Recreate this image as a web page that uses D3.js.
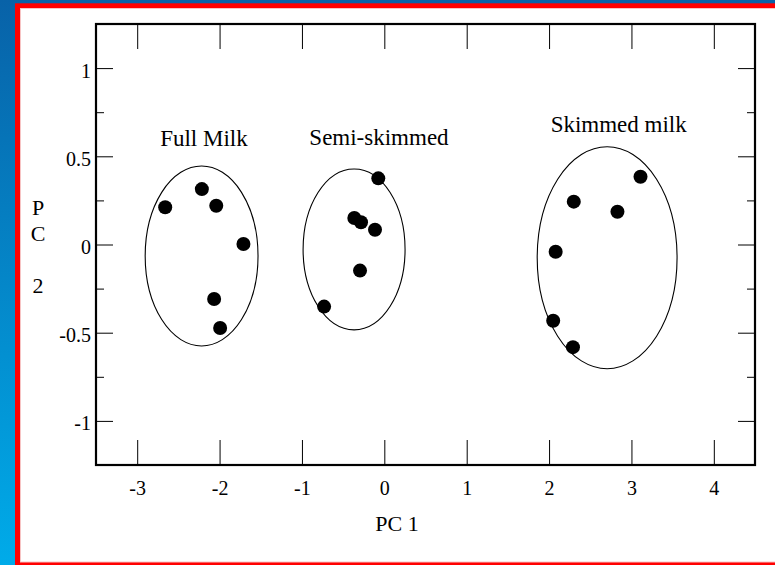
<!DOCTYPE html>
<html>
<head>
<meta charset="utf-8">
<script src="https://cdn.jsdelivr.net/npm/d3@7"></script>
<style>
  html, body { margin: 0; padding: 0; background: #fff; }
  svg { display: block; }
  text { font-family: "Liberation Serif", "Times New Roman", serif; fill: #000; }
</style>
</head>
<body>
<svg id="chart" width="775" height="565"></svg>
<script>
// ---- data ----
const fullX = [-2.66, -2.215, -2.04, -1.71, -2.066, -1.993];
const fullY = [0.211, 0.314, 0.220, 0.003, -0.309, -0.473];
const semiX = [-0.073, -0.364, -0.283, -0.113, -0.295, -0.731];
const semiY = [0.375, 0.150, 0.126, 0.084, -0.148, -0.352];
const skimX = [3.11, 2.30, 2.83, 2.08, 2.05, 2.29];
const skimY = [0.384, 0.243, 0.186, -0.041, -0.432, -0.582];

const groupNames = ["Full Milk", "Semi-skimmed", "Skimmed milk"];
const ellipseCX = [-2.218, -0.367, 2.705];
const ellipseCY = [-0.065, -0.028, -0.075];
const ellipseRX = [0.685, 0.619, 0.849];
const ellipseRY = [0.51, 0.456, 0.629];
const labelX = [-2.721, -0.910, 2.019];
const labelY = [0.56, 0.564, 0.636];

const xTicks = [-3, -2, -1, 0, 1, 2, 3, 4];
const xTickLabels = ["-3", "-2", "-1", "0", "1", "2", "3", "4"];
const yTicks = [-1, -0.5, 0, 0.5, 1];
const yTickLabels = ["-1", "-0.5", "0", "0.5", "1"];
const yMinorTicks = [-0.75, -0.25, 0.25, 0.75];
const xTitle = "PC 1";
const yTitleChars = ["P", "C", "", "2"];

// ---- layout ----
const svg = d3.select("#chart");
const L = 96, R = 755, T = 24, B = 465;
const x = d3.scaleLinear().domain([-3.5, 4.5]).range([L, R]);
const y = d3.scaleLinear().domain([-1.25, 1.25]).range([B, T]);

// frame background
const defs = svg.append("defs");
const grad = defs.append("linearGradient").attr("id", "bluegrad")
  .attr("x1", 0).attr("y1", 0).attr("x2", 0).attr("y2", 1);
grad.append("stop").attr("offset", "0%").attr("stop-color", "#0862a8");
grad.append("stop").attr("offset", "100%").attr("stop-color", "#00abe9");
svg.append("rect").attr("x", 0).attr("y", 0).attr("width", 775).attr("height", 565).attr("fill", "url(#bluegrad)");
svg.append("rect").attr("x", 15).attr("y", 3.3).attr("width", 770).attr("height", 570).attr("fill", "#ff0000");
svg.append("rect").attr("x", 20).attr("y", 8).attr("width", 770).attr("height", 554.5).attr("fill", "#f7c4c4");
svg.append("rect").attr("x", 21).attr("y", 9).attr("width", 770).attr("height", 552.5).attr("fill", "#ffffff");

// axes ticks (inside)
const tickStyle = g => {
  g.select(".domain").remove();
  g.selectAll(".tick line").attr("stroke", "#000").attr("stroke-width", 1);
  g.selectAll(".tick text").style("font-family", "'Liberation Serif', 'Times New Roman', serif").style("font-size", "20px").attr("fill", "#000");
};

svg.append("g").attr("transform", `translate(0,${B})`)
  .call(d3.axisBottom(x).tickValues(xTicks).tickSize(-25).tickPadding(16)
    .tickFormat((d, i) => xTickLabels[i]))
  .call(tickStyle);
svg.append("g").attr("transform", `translate(0,${T})`)
  .call(d3.axisTop(x).tickValues(xTicks).tickSize(-25).tickFormat(""))
  .call(tickStyle);
svg.append("g").attr("transform", `translate(${L},0)`)
  .call(d3.axisLeft(y).tickValues(yTicks).tickSize(-17).tickPadding(5)
    .tickFormat((d, i) => yTickLabels[i]))
  .call(tickStyle)
  .call(g => g.selectAll(".tick text").attr("dy", "0.45em"));
svg.append("g").attr("transform", `translate(${L},0)`)
  .call(d3.axisLeft(y).tickValues(yMinorTicks).tickSize(-8).tickFormat(""))
  .call(tickStyle);
svg.append("g").attr("transform", `translate(${R},0)`)
  .call(d3.axisRight(y).tickValues(yTicks).tickSize(-17).tickFormat(""))
  .call(tickStyle);
svg.append("g").attr("transform", `translate(${R},0)`)
  .call(d3.axisRight(y).tickValues(yMinorTicks).tickSize(-8).tickFormat(""))
  .call(tickStyle);

// plot frame
svg.append("rect").attr("x", L).attr("y", T).attr("width", R - L).attr("height", B - T)
  .attr("fill", "none").attr("stroke", "#000").attr("stroke-width", 2.2);

// ellipses
const ell = groupNames.map((n, i) => ({ cx: ellipseCX[i], cy: ellipseCY[i], rx: ellipseRX[i], ry: ellipseRY[i] }));
svg.append("g").selectAll("ellipse").data(ell).join("ellipse")
  .attr("cx", d => x(d.cx)).attr("cy", d => y(d.cy))
  .attr("rx", d => x(d.cx + d.rx) - x(d.cx))
  .attr("ry", d => y(d.cy) - y(d.cy + d.ry))
  .attr("fill", "none").attr("stroke", "#000").attr("stroke-width", 1.1);

// points
const pts = [];
[[fullX, fullY], [semiX, semiY], [skimX, skimY]].forEach(([xs, ys]) => {
  xs.forEach((v, i) => pts.push({ x: v, y: ys[i] }));
});
svg.append("g").selectAll("circle").data(pts).join("circle")
  .attr("cx", d => x(d.x)).attr("cy", d => y(d.y)).attr("r", 7).attr("fill", "#000");

// group labels
svg.append("g").selectAll("text").data(groupNames).join("text")
  .attr("x", (d, i) => x(labelX[i])).attr("y", (d, i) => y(labelY[i]))
  .style("font-size", "23px").text(d => d);

// axis titles
svg.append("text").attr("x", 397).attr("y", 531).attr("text-anchor", "middle")
  .style("font-size", "22px").text(xTitle);
svg.append("g").selectAll("text").data(yTitleChars).join("text")
  .attr("x", 38).attr("y", (d, i) => 215 + i * 26).attr("text-anchor", "middle")
  .style("font-size", "22px").text(d => d);
</script>
</body>
</html>
